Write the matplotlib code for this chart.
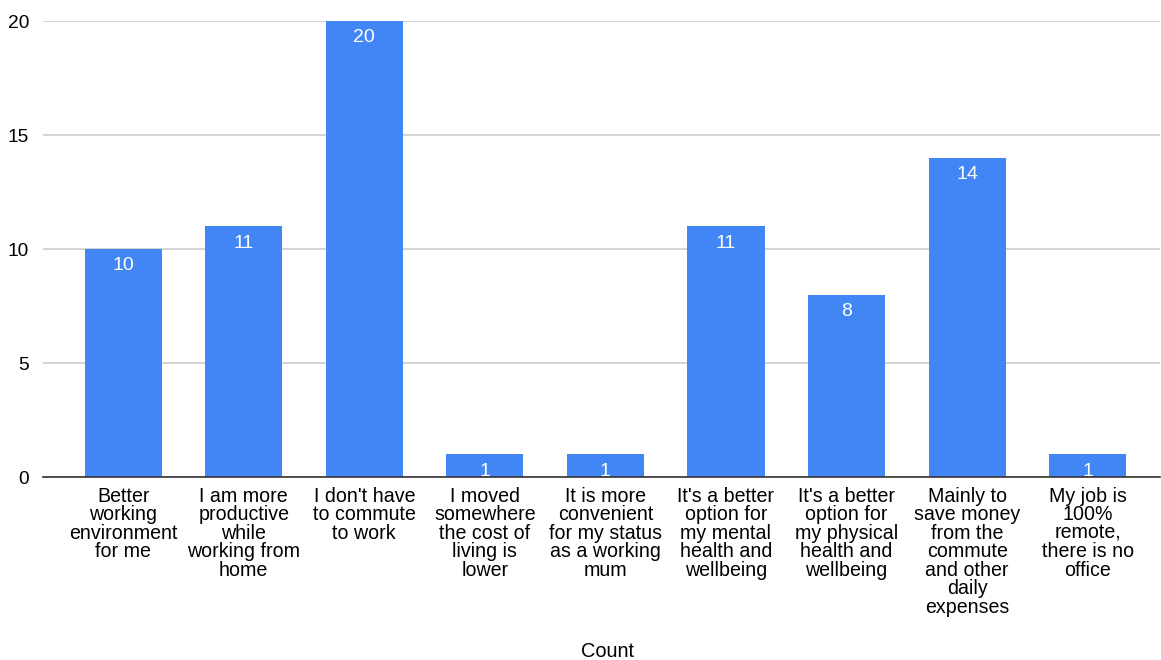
import matplotlib
matplotlib.use("Agg")
import matplotlib.pyplot as plt

categories = [
    "Better\nworking\nenvironment\nfor me",
    "I am more\nproductive\nwhile\nworking from\nhome",
    "I don't have\nto commute\nto work",
    "I moved\nsomewhere\nthe cost of\nliving is\nlower",
    "It is more\nconvenient\nfor my status\nas a working\nmum",
    "It's a better\noption for\nmy mental\nhealth and\nwellbeing",
    "It's a better\noption for\nmy physical\nhealth and\nwellbeing",
    "Mainly to\nsave money\nfrom the\ncommute\nand other\ndaily\nexpenses",
    "My job is\n100%\nremote,\nthere is no\noffice",
]
counts = [10, 11, 20, 1, 1, 11, 8, 14, 1]
y_ticks = [0, 5, 10, 15, 20]

BAR_COLOR = "#4285F4"
FONT = ["Liberation Sans", "DejaVu Sans"]
plt.rcParams["font.family"] = FONT

W, H = 1161, 660
fig = plt.figure(figsize=(W / 100, H / 100), dpi=100)
ax = fig.add_axes([43 / W, (H - 477) / H, (1160 - 43) / W, (477 - 21) / H])

x = list(range(len(categories)))
bars = ax.bar(x, counts, width=0.64, color=BAR_COLOR, zorder=3)

for rect, v in zip(bars, counts):
    ax.annotate(str(v), (rect.get_x() + rect.get_width() / 2, rect.get_height()),
                xytext=(0, -6), textcoords="offset points",
                ha="center", va="top", color="white", fontsize=14)

ax.set_xlim(-0.665, 8.6)
ax.set_ylim(0, 20)
ax.set_yticks(y_ticks)
ax.set_yticklabels([str(t) for t in y_ticks], fontsize=13.8)
ax.set_xticks(x)
ax.set_xticklabels(categories, fontsize=14.1, linespacing=0.97, va="top")
ax.tick_params(axis="both", length=0, colors="black")
ax.tick_params(axis="y", pad=10)
ax.tick_params(axis="x", pad=7)

ax.grid(axis="y", color="#cccccc", linewidth=1.2, zorder=0)
ax.set_axisbelow(True)
for s in ["top", "right", "left"]:
    ax.spines[s].set_visible(False)
ax.spines["bottom"].set_color("#333333")
ax.spines["bottom"].set_linewidth(1.2)
ax.spines["bottom"].set_zorder(4)

fig.text(607 / W, (H - 657) / H, "Count", ha="center", va="baseline", fontsize=14.4)

fig.savefig("out.png", dpi=100, facecolor="white")
